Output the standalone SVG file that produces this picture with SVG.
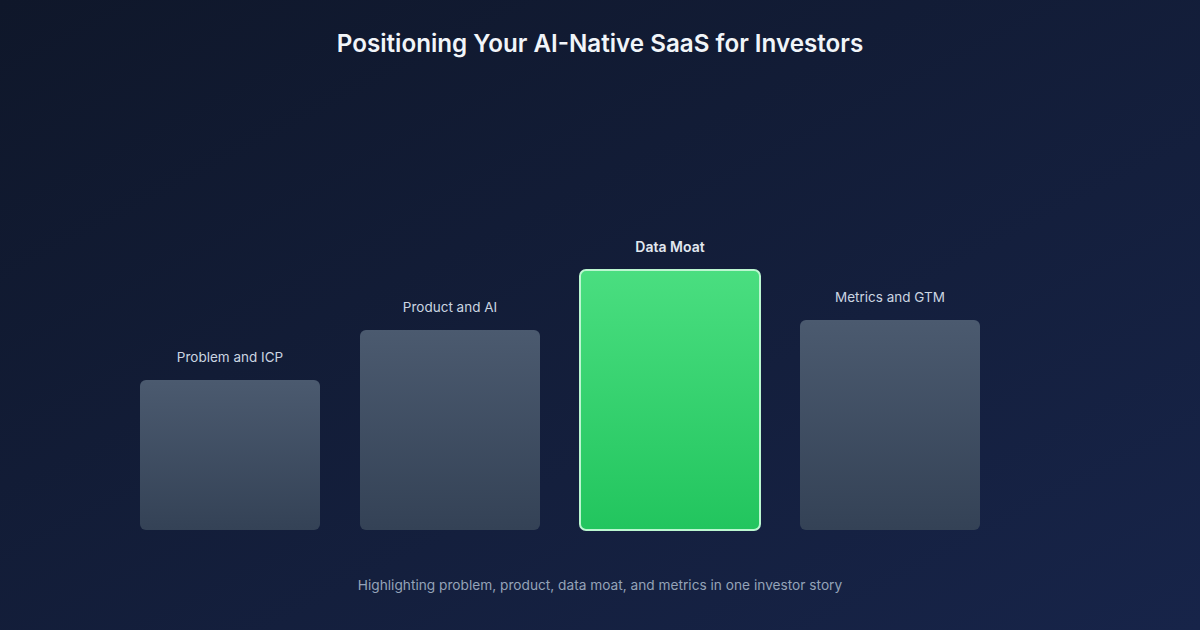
<svg xmlns="http://www.w3.org/2000/svg" width="1200" height="630" viewBox="0 0 1200 630">
<defs>
<linearGradient id="bg" x1="0" y1="0" x2="1" y2="1">
<stop offset="0" stop-color="#0f172a"/>
<stop offset="1" stop-color="#172449"/>
</linearGradient>
<linearGradient id="gray" x1="0" y1="0" x2="0" y2="1">
<stop offset="0" stop-color="#4b5a6f"/>
<stop offset="1" stop-color="#344256"/>
</linearGradient>
<linearGradient id="green" x1="0" y1="0" x2="0" y2="1">
<stop offset="0" stop-color="#4ade80"/>
<stop offset="1" stop-color="#22c55e"/>
</linearGradient>
<style>
text{font-family:Inter,"Liberation Sans",sans-serif;text-anchor:middle}
.title{font-size:24.2px;font-weight:600;fill:#f1f5f9}
.lbl{font-size:13.5px;fill:#cbd5e1}
.lblb{font-size:14px;font-weight:600;fill:#e2e8f0}
.sub{font-size:13.7px;fill:#94a3b8}
.bar{fill:url(#gray)}
.hl{fill:url(#green);stroke:#bbf7d0;stroke-width:2}
</style>
</defs>
<rect width="1200" height="630" fill="url(#bg)"/>
<text class="title" x="600" y="52">Positioning Your AI-Native SaaS for Investors</text>
<g id="connectors"></g>
<g id="node-problem">
<rect class="bar" x="140" y="380" width="180" height="150" rx="6"/>
<text class="lbl" x="230" y="362">Problem and ICP</text>
</g>
<g id="node-product">
<rect class="bar" x="360" y="330" width="180" height="200" rx="6"/>
<text class="lbl" x="450" y="312">Product and AI</text>
</g>
<g id="node-moat">
<rect class="hl" x="580" y="270" width="180" height="260" rx="6"/>
<text class="lblb" x="670" y="252">Data Moat</text>
</g>
<g id="node-metrics">
<rect class="bar" x="800" y="320" width="180" height="210" rx="6"/>
<text class="lbl" x="890" y="302">Metrics and GTM</text>
</g>
<text class="sub" x="600" y="590">Highlighting problem, product, data moat, and metrics in one investor story</text>
</svg>
